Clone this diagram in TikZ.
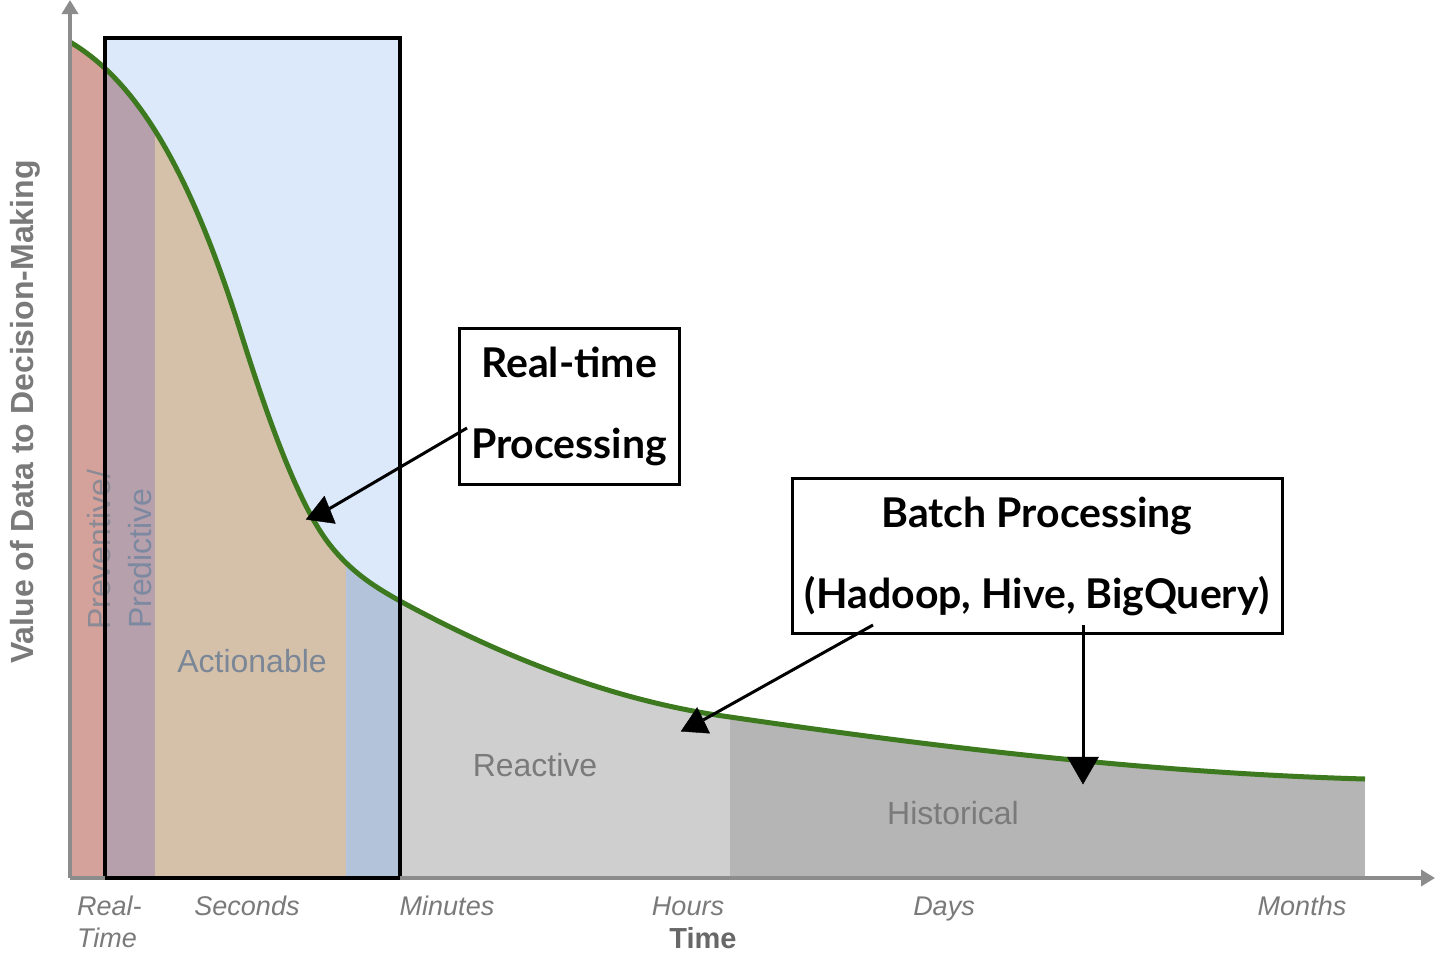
\documentclass[tikz,border=0pt]{standalone}
\usepackage{fontspec}
\setmainfont{Liberation Sans}
\newfontfamily\boxfont{Lato}
\usetikzlibrary{arrows.meta,shapes.geometric}
\definecolor{cRed}{HTML}{D5A29B}
\definecolor{cPurple}{HTML}{B5A0AC}
\definecolor{cTan}{HTML}{D5C1A9}
\definecolor{cBlueGray}{HTML}{B3C3D9}
\definecolor{cLightBlue}{HTML}{DBE9FB}
\definecolor{cReactive}{HTML}{CFCFCF}
\definecolor{cHistorical}{HTML}{B5B5B5}
\definecolor{cCurve}{HTML}{3D7A1F}
\definecolor{cAxis}{HTML}{8C8C8C}
\definecolor{cLabel}{HTML}{7A7A7A}
\definecolor{cAction}{HTML}{7B8797}
\definecolor{cPred}{HTML}{7D89A0}
\definecolor{cPrev}{HTML}{8B8A95}
\tikzset{
  regionlabel/.style={text=cLabel, font=\fontsize{32}{36}\selectfont, inner sep=0pt},
  ticklabel/.style={text=cLabel, font=\fontsize{27}{32}\selectfont\itshape, inner sep=0pt, anchor=base},
  callout/.style={draw=black, line width=3pt, fill=white, inner sep=0pt, align=center,
    font=\boxfont\bfseries\fontsize{41}{81}\selectfont},
  marker/.style={regular polygon, regular polygon sides=3, fill=black, draw=black, inner sep=0pt},
  conn/.style={draw=black, line width=3pt},
  axisline/.style={draw=cAxis, line width=3.5pt, -{Triangle[length=14pt,width=16pt]}}
}
\begin{document}
\begin{tikzpicture}[x=1pt, y=-1pt]
\useasboundingbox (0,0) rectangle (1456,978);
\fill[white] (0,0) rectangle (1456,978);
% light blue real-time window
\fill[cLightBlue] (105,38) rectangle (400,878);
% regions under the curve
\begin{scope}
  \clip (70,878) -- (70,42) .. controls (127,76) and (183,148) .. (240,330)
        .. controls (270,426) and (300,507) .. (330,545)
        .. controls (353,574) and (377,588) .. (400,601)
        .. controls (510,661) and (620,702) .. (730,717)
        .. controls (942,748) and (1153,773) .. (1365,779)
        -- (1365,878) -- cycle;
  \fill[cRed] (70,0) rectangle (105,878);
  \fill[cPurple] (105,0) rectangle (155,878);
  \fill[cTan] (155,0) rectangle (346,878);
  \fill[cBlueGray] (346,0) rectangle (400,878);
  \fill[cReactive] (400,0) rectangle (730,878);
  \fill[cHistorical] (730,0) rectangle (1365,878);
\end{scope}
% value curve
\draw[cCurve, line width=5pt] (70,42) .. controls (127,76) and (183,148) .. (240,330)
        .. controls (270,426) and (300,507) .. (330,545)
        .. controls (353,574) and (377,588) .. (400,601)
        .. controls (510,661) and (620,702) .. (730,717)
        .. controls (942,748) and (1153,773) .. (1365,779);
% region labels
\node[regionlabel, text=cPrev, rotate=90, anchor=base west] (prev) at (110,630) {Preventive/};
\node[regionlabel, text=cPred, rotate=90, anchor=base west] (pred) at (151,629) {Predictive};
\node[regionlabel, text=cAction, anchor=base] (act) at (252,672) {Actionable};
\node[regionlabel, anchor=base] (react) at (535,776) {Reactive};
\node[regionlabel, anchor=base] (hist) at (953,824) {Historical};
% real-time window frame
\draw[black, line width=4pt] (105,38) rectangle (400,878);
% axes
\coordinate (origin) at (70,878);
\coordinate (ytop) at (70,0);
\coordinate (xend) at (1435,878);
\draw[axisline] (origin) -- (ytop);
\draw[axisline] (origin) -- (xend);
\draw[black, line width=4pt] (105,878) -- (400,878);
% axis titles
\node[text=cLabel, font=\fontsize{32}{36}\selectfont\bfseries, rotate=90, inner sep=0pt] (ylab) at (25,412) {Value of Data to Decision-Making};
\node[text=cLabel!85!black, font=\fontsize{29}{32}\selectfont\bfseries, anchor=base, inner sep=0pt] (xlab) at (703,948) {Time};
% tick labels
\node[ticklabel, anchor=base west] (t1a) at (77,915) {Real-};
\node[ticklabel, anchor=base west] (t1b) at (77,947) {Time};
\node[ticklabel] (t2) at (247,915) {Seconds};
\node[ticklabel] (t3) at (447,915) {Minutes};
\node[ticklabel] (t4) at (688,915) {Hours};
\node[ticklabel] (t5) at (944,915) {Days};
\node[ticklabel] (t6) at (1302,915) {Months};
% callout boxes
\node[callout, minimum width=220pt, minimum height=156pt] (rt) at (569,406) {Real-time\\Processing};
\node[callout, minimum width=490pt, minimum height=155pt] (bp) at (1037,556) {Batch Processing\\(Hadoop, Hive, BigQuery)};
% markers
\node[marker, minimum size=34pt, rotate=-8] (m1) at (322,513) {};
\node[marker, minimum size=33pt, rotate=-4] (m2) at (696,724) {};
\node[marker, minimum size=36pt, rotate=180] (m3) at (1083,766) {};
% connectors
\coordinate (rtA) at (467,428);
\coordinate (bpA) at (873,625);
\coordinate (bpB) at (1083,625);
\draw[conn] (rtA) -- (m1);
\draw[conn] (bpA) -- (m2);
\draw[conn] (bpB) -- (m3);
\end{tikzpicture}
\end{document}
